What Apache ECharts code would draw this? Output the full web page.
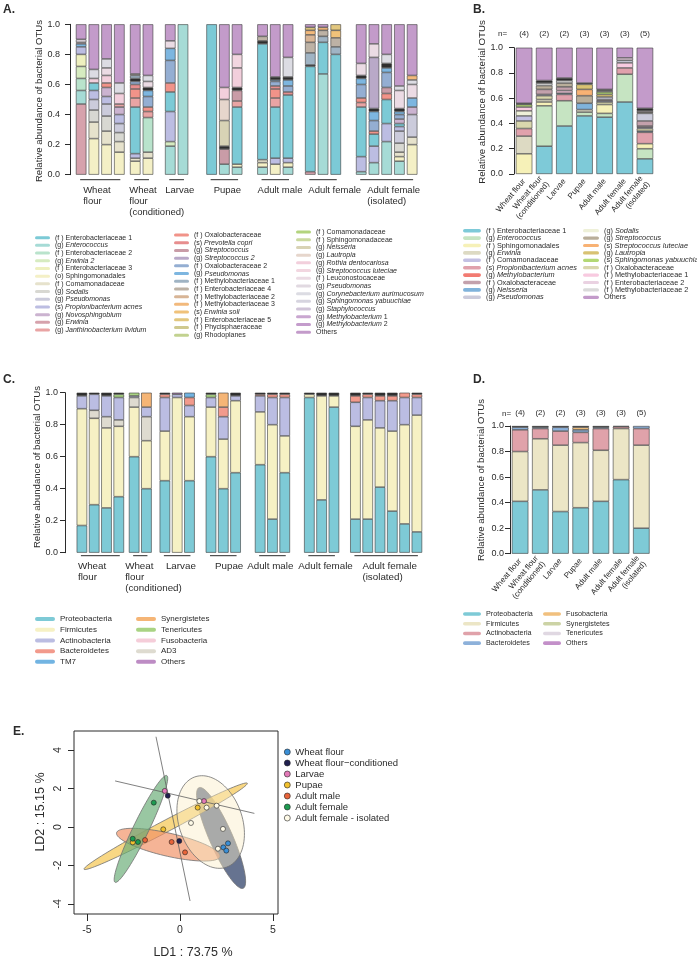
<!DOCTYPE html>
<html>
<head>
<meta charset="utf-8">
<title>Bacterial OTU composition</title>
<script src="https://cdn.jsdelivr.net/npm/echarts@6/dist/echarts.min.js"></script>
<style>
  html, body { margin: 0; padding: 0; background: #fff; }
  #chart { width: 697px; height: 960px; }
</style>
</head>
<body>
<div id="chart"></div>
<script>
const FONT = '"Liberation Sans", Arial, Helvetica, sans-serif';
const INK = '#2b2b2b';

// ---------- shared categories ----------
const stageNames = ['Wheat flour', 'Wheat flour\n(conditioned)', 'Larvae', 'Pupae', 'Adult male', 'Adult female', 'Adult female\n(isolated)'];
const stageGroupNames = ['Wheat\nflour', 'Wheat\nflour\n(conditioned)', 'Larvae', 'Pupae', 'Adult male', 'Adult female', 'Adult female\n(isolated)'];
const stageN = [4, 2, 2, 3, 3, 3, 5];

// ---------- panel A: OTUs per sample (22 samples) ----------
const aGroupSizes = [4, 2, 2, 3, 3, 3, 5];
//                   WF1  WF2  WF3  WF4   WC1  WC2   L1   L2    P1   P2   P3    M1   M2   M3    F1   F2   F3    I1   I2   I3   I4   I5
const aErwinia     = [0.47,0,   0,   0,    0,   0,    0,   0,    0,   0,   0,    0,   0,   0,    0.02,0,   0,    0,   0,   0,   0,   0];
const aEnterococcus= [0.09,0,   0,   0,    0,   0,    0.19,1.00, 0,   0.07,0.05, 0.05,0,   0.05, 0,   0.67,0,    0.02,0.08,0.22,0.09,0];
const aSphingales  = [0,   0.24,0.20,0.15, 0.09,0.11, 0,   0,    0,   0,   0.02, 0.03,0.07,0.03, 0,   0,   0,    0,   0,   0,   0.03,0.20];
const aComamonad   = [0,   0.11,0.09,0.07, 0.02,0.04, 0,   0,    0,   0,   0,    0.02,0,   0,    0,   0,   0,    0,   0,   0,   0.03,0.05];
const aEntero2     = [0.08,0,   0,   0,    0,   0.23, 0,   0,    0,   0,   0,    0,   0,   0,    0,   0,   0,    0,   0,   0,   0,   0];
const aErwinia2    = [0.08,0,   0,   0,    0,   0,    0.03,0,    0,   0,   0,    0,   0,   0,    0,   0,   0,    0,   0,   0,   0,   0];
const aEntero3     = [0.08,0,   0,   0,    0,   0,    0,   0,    0,   0,   0,    0,   0,   0,    0,   0,   0,    0,   0,   0,   0,   0];
const aSodalis     = [0,   0.08,0.10,0.06, 0,   0,    0,   0,    0,   0,   0,    0,   0,   0,    0,   0,   0,    0,   0,   0,   0.06,0];
const aPseudomonas = [0,   0.07,0.08,0.06, 0,   0,    0,   0,    0,   0,   0,    0,   0,   0,    0,   0,   0,    0,   0,   0,   0.08,0.15];
const aPropioni    = [0.05,0.06,0.05,0.06, 0.03,0,    0.20,0,    0,   0,   0,    0,   0.04,0.03, 0,   0,   0,    0.10,0.11,0.12,0.03,0];
const aEntero1     = [0,   0.05,0,   0,    0.31,0,    0.13,0,    1.00,0,   0.38, 0.77,0.34,0.42, 0.70,0.21,0.80, 0.33,0.08,0.16,0.02,0];
const aNovosph     = [0,   0,   0.06,0.05, 0,   0,    0,   0,    0,   0,   0,    0,   0,   0,    0,   0,   0,    0,   0,   0,   0.03,0.05];
const aJanthino    = [0,   0,   0,   0.02, 0.06,0.04, 0,   0,    0,   0,   0.04, 0,   0.06,0,    0,   0,   0,    0.03,0,   0,   0,   0];
const aOxalo       = [0,   0,   0.03,0,    0.06,0.03, 0.06,0,    0,   0,   0,    0,   0.06,0,    0,   0,   0,    0.03,0.02,0.04,0,   0];
const aPrevotella  = [0,   0,   0,   0,    0.03,0,    0,   0,    0,   0,   0,    0,   0.02,0.02, 0,   0,   0,    0,   0,   0,   0,   0];
const aStrep       = [0,   0,   0,   0,    0,   0,    0,   0,    0,   0.10,0.07, 0,   0,   0,    0,   0,   0,    0,   0,   0.04,0,   0];
const aOxalo2      = [0,   0,   0,   0,    0.02,0.07, 0.15,0,    0,   0,   0,    0,   0.03,0.04, 0,   0,   0,    0.09,0.07,0.10,0.03,0];
const aPseudo2     = [0.02,0,   0,   0,    0,   0.04, 0.08,0,    0,   0,   0,    0,   0.01,0.04, 0,   0,   0,    0.04,0.06,0.03,0.02,0.06];
const aMinor       = [0,   0,   0,   0,    0.02,0.02, 0,   0,    0,   0.02,0.02, 0.02,0.02,0.02, 0.01,0,   0,    0.02,0.02,0.03,0.02,0];
const aStrep2      = [0,   0,   0,   0,    0,   0,    0,   0,    0,   0,   0,    0,   0,   0,    0,   0,   0,    0,   0.34,0,   0,   0];
const aNeisseria   = [0,   0,   0,   0,    0,   0,    0,   0,    0,   0.17,0,    0,   0,   0,    0,   0,   0,    0,   0,   0,   0,   0];
const aLautropia   = [0,   0,   0,   0,    0,   0,    0,   0,    0,   0.14,0,    0,   0,   0,    0,   0,   0,    0,   0,   0,   0,   0];
const aRothia      = [0.01,0.03,0.05,0.07, 0,   0,    0,   0,    0,   0.08,0.13, 0,   0,   0,    0,   0,   0,    0,   0,   0,   0,   0];
const aLuteciae    = [0,   0,   0,   0,    0,   0,    0,   0,    0,   0,   0.09, 0,   0,   0,    0,   0,   0,    0,   0,   0,   0,   0];
const aLeucono     = [0,   0,   0.05,0,    0,   0.04, 0.05,0,    0,   0,   0,    0,   0,   0,    0,   0,   0,    0.08,0.09,0,   0.12,0.09];
const aPseudo3     = [0.02,0,   0,   0,    0,   0,    0,   0,    0,   0,   0,    0,   0,   0,    0,   0,   0,    0,   0,   0,   0,   0];
const aCoryne      = [0,   0.06,0.06,0.07, 0,   0.04, 0,   0,    0,   0,   0,    0,   0,   0.13, 0,   0,   0,    0,   0,   0.06,0.03,0.03];
const aMethyl1     = [0,   0,   0,   0,    0.02,0,    0,   0,    0,   0,   0,    0,   0,   0,    0.08,0.04,0.05, 0,   0,   0,   0,   0];
const aEntero4     = [0,   0,   0,   0,    0.01,0,    0,   0,    0,   0,   0,    0.03,0,   0,    0.07,0.04,0.06, 0,   0,   0,   0,   0];
const aMethyl2     = [0,   0,   0,   0,    0,   0,    0,   0,    0,   0,   0,    0,   0,   0,    0.05,0,   0,    0,   0,   0,   0,   0];
const aMethyl3     = [0,   0,   0,   0,    0,   0,    0,   0,    0,   0,   0,    0,   0,   0,    0.03,0.02,0,    0,   0,   0,   0,   0.03];
const aErwiniaSoli = [0,   0,   0,   0,    0,   0,    0,   0,    0,   0,   0,    0,   0,   0,    0,   0,   0.05, 0,   0,   0,   0,   0];
const aEntero5     = [0,   0,   0,   0,    0,   0,    0,   0,    0,   0,   0,    0,   0,   0,    0.02,0,   0.04, 0,   0,   0,   0,   0];
const aOthers      = [0.10,0.30,0.23,0.39, 0.33,0.34, 0.11,0,    0,   0.42,0.20, 0.08,0.35,0.22, 0.02,0.02,0,    0.26,0.13,0.20,0.41,0.34];

// stacking order, bottom to top (null = listed in the legend only)
const aStack = [
  ['erwinia', aErwinia], ['enterococcus', aEnterococcus], ['sphingales', aSphingales], ['comamonad', aComamonad],
  ['entero2', aEntero2], ['erwinia2', aErwinia2], ['entero3', aEntero3], ['sodalis', aSodalis],
  ['pseudomonas', aPseudomonas], ['propioni', aPropioni], ['entero1', aEntero1], ['novosph', aNovosph],
  ['janthino', aJanthino], ['oxalo', aOxalo], ['prevotella', aPrevotella], ['strep', aStrep],
  ['oxalo2', aOxalo2], ['pseudo2', aPseudo2], ['minor', aMinor], ['strep2', aStrep2],
  ['neisseria', aNeisseria], ['lautropia', aLautropia], ['rothia', aRothia], ['luteciae', aLuteciae],
  ['leucono', aLeucono], ['pseudo3', aPseudo3], ['coryne', aCoryne], ['methyl1', aMethyl1],
  ['entero4', aEntero4], ['methyl2', aMethyl2], ['methyl3', aMethyl3], ['erwiniaSoli', aErwiniaSoli],
  ['entero5', aEntero5], ['phycis', null], ['rhodoplanes', null], ['comamonad2', null],
  ['sphingaceae', null], ['yabu', null], ['staphylo', null], ['methylob1', null], ['methylob2', null],
  ['others', aOthers]
];
const aLabels = {
  entero1: '(f ) Enterobacteriaceae 1', enterococcus: '(g) *Enterococcus*', entero2: '(f ) Enterobacteriaceae 2',
  erwinia2: '(g) *Erwinia 2*', entero3: '(f ) Enterobacteriaceae 3', sphingales: '(o) Sphingomonadales',
  comamonad: '(f ) Comamonadaceae', sodalis: '(g) *Sodalis*', pseudomonas: '(g) *Pseudomonas*',
  propioni: '(s) *Propionibacterium acnes*', novosph: '(g) *Novosphingobium*', erwinia: '(g) *Erwinia*',
  janthino: '(g) *Janthinobacterium lividum*',
  oxalo: '(f ) Oxalobacteraceae', prevotella: '(s) *Prevotella copri*', strep: '(g) *Streptococcus*',
  strep2: '(g) *Streptococcus 2*', oxalo2: '(f ) Oxalobacteraceae 2', pseudo2: '(g) *Pseudomonas*',
  methyl1: '(f ) Methylobacteriaceae 1', entero4: '(f ) Enterobacteriaceae 4', methyl2: '(f ) Methylobacteriaceae 2',
  methyl3: '(f ) Methylobacteriaceae 3', erwiniaSoli: '(s) *Erwinia soli*', entero5: '(f ) Enterobacteriaceae 5',
  phycis: '(f ) Phycisphaeraceae', rhodoplanes: '(g) Rhodoplanes',
  comamonad2: '(f ) Comamonadaceae', sphingaceae: '(f ) Sphingomonadaceae', neisseria: '(g) *Neisseria*',
  lautropia: '(g) *Lautropia*', rothia: '(g) *Rothia dentocariosa*', luteciae: '(g) *Streptococcus luteciae*',
  leucono: '(f ) Leuconostocaceae', pseudo3: '(g) *Pseudomonas*', coryne: '(g) *Corynebacterium aurimucosum*',
  yabu: '(g) *Sphingomonas yabuuchiae*', staphylo: '(g) *Staphylococcus*', methylob1: '(g) *Methylobacterium* 1',
  methylob2: '(g) *Methylobacterium* 2', others: 'Others'
};
const aLegendCols = [
  ['entero1', 'enterococcus', 'entero2', 'erwinia2', 'entero3', 'sphingales', 'comamonad', 'sodalis', 'pseudomonas', 'propioni', 'novosph', 'erwinia', 'janthino'],
  ['oxalo', 'prevotella', 'strep', 'strep2', 'oxalo2', 'pseudo2', 'methyl1', 'entero4', 'methyl2', 'methyl3', 'erwiniaSoli', 'entero5', 'phycis', 'rhodoplanes'],
  ['comamonad2', 'sphingaceae', 'neisseria', 'lautropia', 'rothia', 'luteciae', 'leucono', 'pseudo3', 'coryne', 'yabu', 'staphylo', 'methylob1', 'methylob2', 'others']
];
const aColors = {
  entero1: '#7ccad6', enterococcus: '#a6dbd6', entero2: '#b9e3cc', erwinia2: '#d6ebc0', entero3: '#eef0bf',
  sphingales: '#f4f0c6', comamonad: '#e6e2cc', sodalis: '#d8d8d2', pseudomonas: '#cbcbdb', propioni: '#bcbde2',
  novosph: '#cbb3d0', erwinia: '#d6a2ac', janthino: '#e9a4a4', oxalo: '#f19389', prevotella: '#e78e8e',
  strep: '#c99ca7', strep2: '#b9a9c8', oxalo2: '#94aed2', pseudo2: '#7db6e0', methyl1: '#a0b4c4',
  entero4: '#bdb2a5', methyl2: '#d8b596', methyl3: '#f2b97c', erwiniaSoli: '#f0c27a', entero5: '#e2c77f',
  phycis: '#cfc98f', rhodoplanes: '#c2d290', comamonad2: '#b3d47e', sphingaceae: '#cbd9a0', neisseria: '#d8d3b5',
  lautropia: '#e6d6cc', rothia: '#f2cfdc', luteciae: '#f2d6e0', leucono: '#ebdbe4', pseudo3: '#e1d9e1',
  coryne: '#dcdce3', yabu: '#d6d4df', staphylo: '#d0c4d8', methylob1: '#c9a6d0', methylob2: '#c49ccc',
  others: '#c39bca', minor: '#2e2e2e'
};

// ---------- panel B: pooled per stage ----------
const bEntero1      = [0,    0.22, 0.38, 0.46, 0.45, 0.57, 0.12];
const bEnterococcus = [0,    0.32, 0.20, 0.03, 0.03, 0.22, 0.08];
const bSphingales   = [0.16, 0.03, 0,    0,    0.07, 0,    0.04];
const bErwinia      = [0.14, 0.02, 0,    0.02, 0,    0,    0];
const bPropioni     = [0.06, 0,    0.05, 0,    0,    0.05, 0.09];
const bNeisseria    = [0,    0,    0.01, 0.05, 0,    0,    0.01];
const bOxalo2       = [0.06, 0.03, 0,    0,    0.02, 0,    0.02];
const bComamonad    = [0.04, 0.01, 0,    0,    0.01, 0,    0.01];
const bSodalis      = [0.04, 0,    0,    0,    0,    0,    0];
const bMethyl1      = [0.03, 0,    0.02, 0,    0,    0.04, 0.01];
const bOxalo        = [0,    0.04, 0.03, 0,    0.01, 0,    0.04];
const bPseudomonas  = [0,    0,    0,    0,    0.02, 0.02, 0.06];
const bStrep        = [0,    0.03, 0.03, 0.06, 0,    0,    0.01];
const bLuteciae     = [0,    0,    0,    0.05, 0,    0,    0];
const bLautropia    = [0,    0,    0,    0.04, 0.02, 0,    0];
const bYabu         = [0.02, 0,    0,    0,    0.02, 0,    0];
const bEntero2      = [0,    0,    0,    0,    0,    0.02, 0.01];
const bMethyl2      = [0,    0.02, 0.02, 0,    0.01, 0,    0];
const bMinor        = [0.01, 0.02, 0.02, 0.01, 0.01, 0,    0.02];
const bOthers       = [0.44, 0.26, 0.24, 0.28, 0.33, 0.08, 0.48];
const bStack = [
  ['entero1', bEntero1], ['enterococcus', bEnterococcus], ['sphingales', bSphingales], ['erwinia', bErwinia],
  ['propioni', bPropioni], ['neisseria', bNeisseria], ['oxalo2', bOxalo2], ['comamonad', bComamonad],
  ['sodalis', bSodalis], ['methyl1', bMethyl1], ['oxalo', bOxalo], ['pseudomonas', bPseudomonas],
  ['strep', bStrep], ['luteciae', bLuteciae], ['lautropia', bLautropia], ['yabu', bYabu],
  ['methylobact', null], ['entero2', bEntero2], ['methyl2', bMethyl2], ['minor', bMinor], ['others', bOthers]
];
const bLabels = {
  entero1: '(f ) Enterobacteriaceae 1', enterococcus: '(g) *Enterococcus*', sphingales: '(f ) Sphingomonadales',
  erwinia: '(g) *Erwinia*', comamonad: '(f ) Comamonadaceae', propioni: '(s) *Propionibacterium acnes*',
  methylobact: '(g) *Methylobacterium*', oxalo: '(f ) Oxalobacteraceae', neisseria: '(g) *Neisseria*',
  pseudomonas: '(g) *Pseudomonas*', sodalis: '(g) *Sodalis*', strep: '(g) *Streptococcus*',
  luteciae: '(s) *Streptococcus luteciae*', lautropia: '(g) *Lautropia*', yabu: '(s) *Sphingomonas yabuuchiae*',
  oxalo2: '(f ) Oxalobacteraceae', methyl1: '(f ) Methylobacteriaceae 1', entero2: '(f ) Enterobacteriaceae 2',
  methyl2: '(f ) Methylobacteriaceae 2', others: 'Others'
};
const bLegendCols = [
  ['entero1', 'enterococcus', 'sphingales', 'erwinia', 'comamonad', 'propioni', 'methylobact', 'oxalo', 'neisseria', 'pseudomonas'],
  ['sodalis', 'strep', 'luteciae', 'lautropia', 'yabu', 'oxalo2', 'methyl1', 'entero2', 'methyl2', 'others']
];
const bColors = {
  entero1: '#7ecad8', enterococcus: '#c6e4c2', sphingales: '#f6f1b8', erwinia: '#dddac3', comamonad: '#c3c0e3',
  propioni: '#e0a1ac', methylobact: '#f27b72', oxalo: '#c3a1ac', neisseria: '#80b3db', pseudomonas: '#cbcbdb',
  sodalis: '#eef0d8', strep: '#b9ae9a', luteciae: '#f8b274', lautropia: '#d8c273', yabu: '#b3d874',
  oxalo2: '#d9d7ad', methyl1: '#f8cae0', entero2: '#ead2e2', methyl2: '#dadada', others: '#c39bca', minor: '#2e2e2e'
};

// ---------- panel C: phyla per sample (24 samples) ----------
const cGroupSizes = [4, 2, 3, 3, 3, 3, 6];
//                WF1  WF2  WF3  WF4   WC1  WC2   L1   L2   L3    P1   P2   P3    M1   M2   M3    F1   F2   F3    I1   I2   I3   I4   I5   I6
const cProteo  = [0.17,0.30,0.28,0.35, 0.60,0.40, 0.45,0,   0.45, 0.60,0.40,0.50, 0.55,0.21,0.50, 0.97,0.33,0.91, 0.21,0.21,0.41,0.26,0.18,0.13];
const cFirm    = [0.73,0.54,0.50,0.44, 0.31,0.30, 0.31,0.97,0.40, 0.31,0.31,0.45, 0.33,0.59,0.23, 0.02,0.65,0.07, 0.58,0.62,0.37,0.50,0.62,0.73];
const cAd3     = [0,   0.05,0.07,0.04, 0.06,0.15, 0,   0,   0,    0,   0,   0,    0,   0,   0,    0,   0,   0,    0,   0,   0,   0,   0,   0];
const cActino  = [0.08,0.10,0.13,0.14, 0.01,0.06, 0.21,0.02,0.07, 0.06,0.14,0.03, 0.10,0.17,0.24, 0,   0,   0,    0.15,0.14,0.17,0.19,0.17,0.11];
const cBactero = [0,   0,   0,   0,    0,   0,    0.02,0,   0.05, 0,   0.06,0,    0.01,0.02,0.02, 0,   0,   0,    0.04,0.02,0.03,0.03,0.03,0.02];
const cTm7     = [0,   0,   0,   0,    0,   0,    0,   0,   0.03, 0,   0,   0,    0,   0,   0,    0,   0,   0,    0,   0,   0,   0,   0,   0];
const cSynerg  = [0,   0,   0,   0,    0,   0.09, 0,   0,   0,    0,   0.09,0,    0,   0,   0,    0,   0,   0,    0,   0,   0,   0,   0,   0];
const cTeneri  = [0,   0,   0,   0.02, 0.02,0,    0,   0,   0,    0.02,0,   0,    0,   0,   0,    0,   0,   0,    0,   0,   0,   0,   0,   0];
const cOthers  = [0,   0,   0,   0,    0,   0,    0,   0.01,0,    0,   0,   0,    0,   0,   0,    0,   0,   0,    0,   0,   0,   0,   0,   0];
const cMinor   = [0.02,0.01,0.02,0.01, 0,   0,    0.01,0,   0,    0.01,0,   0.02, 0.01,0.01,0.01, 0.01,0.02,0.02, 0.02,0.01,0.02,0.02,0,   0.01];
const cStack = [
  ['proteo', cProteo], ['firm', cFirm], ['ad3', cAd3], ['actino', cActino], ['bactero', cBactero],
  ['tm7', cTm7], ['synerg', cSynerg], ['teneri', cTeneri], ['fuso', null], ['others', cOthers], ['minor', cMinor]
];
const cLabels = {
  proteo: 'Proteobacteria', firm: 'Firmicutes', actino: 'Actinobacteria', bactero: 'Bacteroidetes', tm7: 'TM7',
  synerg: 'Synergistetes', teneri: 'Tenericutes', fuso: 'Fusobacteria', ad3: 'AD3', others: 'Others'
};
const cLegendCols = [['proteo', 'firm', 'actino', 'bactero', 'tm7'], ['synerg', 'teneri', 'fuso', 'ad3', 'others']];
const cColors = {
  proteo: '#7ecad6', firm: '#f6f1c4', actino: '#bbbde2', bactero: '#f29a8c', tm7: '#72b4e2', synerg: '#f5b576',
  teneri: '#a9d383', fuso: '#f5cdd9', ad3: '#dedbd0', others: '#bd8cc4', minor: '#2e2e2e'
};

// ---------- panel D: pooled phyla per stage ----------
const dProteo  = [0.41, 0.50, 0.33, 0.36, 0.41, 0.58,  0.20];
const dFirm    = [0.39, 0.40, 0.52, 0.51, 0.40, 0.40,  0.65];
const dActino  = [0.17, 0.08, 0.11, 0.08, 0.17, 0.015, 0.13];
const dBactero = [0.02, 0.01, 0.03, 0.02, 0.01, 0,     0.02];
const dFuso    = [0,    0,    0,    0.02, 0,    0,     0];
const dMinor   = [0.01, 0.01, 0.01, 0.01, 0.01, 0.005, 0];
const dStack = [
  ['proteo', dProteo], ['firm', dFirm], ['actino', dActino], ['bactero', dBactero], ['fuso', dFuso],
  ['synerg', null], ['teneri', null], ['others', null], ['minor', dMinor]
];
const dLabels = {
  proteo: 'Proteobacteria', firm: 'Firmicutes', actino: 'Actinobacteria', bactero: 'Bacteroidetes',
  fuso: 'Fusobacteria', synerg: 'Synergistetes', teneri: 'Tenericutes', others: 'Others'
};
const dLegendCols = [['proteo', 'firm', 'actino', 'bactero'], ['fuso', 'synerg', 'teneri', 'others']];
const dColors = {
  proteo: '#7ecad6', firm: '#ece6c6', actino: '#e0a2aa', bactero: '#8db1da', fuso: '#f1c07e',
  synerg: '#ccd3a5', teneri: '#e0d8e2', others: '#c390c9', minor: '#2e2e2e'
};

// ---------- panel E: LDA ----------
const eXTicks = [-5, 0, 5];
const eYTicks = [-4, -2, 0, 2, 4];
const eWheatFlour     = [[2.33, -1.06], [2.58, -0.85], [2.49, -1.23]];
const eWheatFlourCond = [[-0.66, 1.63], [-0.04, -0.73]];
const eLarvae         = [[-0.82, 1.88], [1.29, 1.35]];
const ePupae          = [[-0.90, -0.12], [0.95, 1.01], [-2.54, -0.80]];
const eAdultMale      = [[-1.88, -0.68], [-0.45, -0.78], [0.27, -1.32]];
const eAdultFemale    = [[-1.41, 1.27], [-2.54, -0.61], [-2.26, -0.78]];
const eIsolated       = [[0.59, 0.21], [1.04, 1.35], [1.43, 1.01], [1.97, 1.11], [2.31, -0.10], [2.04, -1.13]];
// ellipses: centre x, centre y, half major axis (dx, dy), half minor width
const eEllipseFlour    = [2.21, -0.57, -1.19, 2.62, 0.62];
const eEllipsePupae    = [-0.77, 0.04, 4.39, 2.24, 0.31];
const eEllipseMale     = [-0.63, -0.92, 2.78, -0.62, 0.62];
const eEllipseFemale   = [-2.10, -0.10, 1.39, 2.78, 0.42];
const eEllipseIsolated = [1.65, 0.26, 0.85, -2.35, 1.70];
const eLoading1 = [[-1.29, 4.70], [0.54, -3.85]];
const eLoading2 = [[-3.49, 2.40], [4.00, 0.71]];
const eGroups = [
  ['wf', 'Wheat flour', eWheatFlour], ['wfc', 'Wheat flour\u2212conditioned', eWheatFlourCond],
  ['larvae', 'Larvae', eLarvae], ['pupae', 'Pupae', ePupae], ['male', 'Adult male', eAdultMale],
  ['female', 'Adult female', eAdultFemale], ['iso', 'Adult female - isolated', eIsolated]
];
const ePointColors = { wf: '#3a8fd6', wfc: '#1f1f4f', larvae: '#e37ab8', pupae: '#f2c12e', male: '#e8643a', female: '#1d9a50', iso: '#fffbe8' };
const eEllipseList = [eEllipseFlour, eEllipsePupae, eEllipseMale, eEllipseFemale, eEllipseIsolated];
const eEllipseFills = ['rgba(75,90,125,0.85)', 'rgba(245,200,85,0.72)', 'rgba(240,145,100,0.68)', 'rgba(105,172,118,0.68)', 'rgba(250,238,200,0.45)'];

// ---------- helpers ----------
const labelOf = {};
function richLabel(name) {
  return (labelOf[name] || name).replace(/\*([^*]+)\*/g, '{i|$1}');
}
function registerLabels(panel, labels) {
  Object.keys(labels).forEach(k => { labelOf[panel + ':' + k] = labels[k]; });
}

// bar centres in "bar units": groups separated by an extra gap,
// then snapped to a fine category grid (q slots per bar)
function slotLayout(sizes, gaps, L, q) {
  const xs = [];
  let x = 0;
  sizes.forEach((n, g) => {
    if (g > 0) x += 1 + gaps[g - 1];
    for (let i = 0; i < n; i++) { xs.push(x); if (i < n - 1) x += 1; }
  });
  const raw = xs.map(v => Math.round(v * q));
  const w = (L.lastPx - L.firstPx) / (raw[raw.length - 1] - raw[0]);
  const pad = Math.round((L.firstPx - L.axisPx) / w - 0.5);
  const slots = raw.map(r => r - raw[0] + pad);
  const total = slots[slots.length - 1] + 1 + Math.round((L.rightPx - L.lastPx) / w - 0.5);
  return { slots, total, width: total * w };
}

function barStack(panel, list, colors, lay, xi, yi, barWidth) {
  return list.map(([key, vals]) => {
    let data = [];
    if (vals) {
      if (lay) {
        data = new Array(lay.total).fill('-');
        lay.slots.forEach((s, i) => { data[s] = vals[i] > 0 ? vals[i] : '-'; });
      } else {
        data = vals.map(v => (v > 0 ? v : '-'));
      }
    }
    return {
      name: panel + ':' + key, type: 'bar', stack: panel,
      xAxisIndex: xi, yAxisIndex: yi, barWidth, silent: true,
      itemStyle: { color: colors[key], borderColor: '#3a3a3a', borderWidth: 0.6 },
      data
    };
  });
}

function groupBrackets(lay, sizes, names, dx, xi, yi, lineGap, textGap, fontSize) {
  const spans = [];
  let k = 0;
  sizes.forEach((n, g) => { spans.push([lay.slots[k], lay.slots[k + n - 1], g]); k += n; });
  return {
    type: 'custom', xAxisIndex: xi, yAxisIndex: yi, silent: true, clip: false, z: 5,
    data: spans,
    renderItem(params, api) {
      const g = api.value(2);
      const a = api.coord([api.value(0), 0]);
      const b = api.coord([api.value(1), 0]);
      const y = a[1] + lineGap;
      return {
        type: 'group', children: [
          { type: 'line', shape: { x1: a[0] - 1, y1: y, x2: b[0] + 1, y2: y }, style: { stroke: INK, lineWidth: 1 } },
          { type: 'text', x: a[0] + dx[g], y: y + textGap,
            style: { text: names[g], align: 'left', textAlign: 'left',
              verticalAlign: 'top', textVerticalAlign: 'top', fontSize, lineHeight: 11, fontFamily: FONT, fill: INK } }
        ]
      };
    }
  };
}

function slotAxis(gridIndex, lay) {
  return { gridIndex, type: 'category', data: new Array(lay.total).fill(''), show: false };
}
function abundanceAxis(gridIndex, margin) {
  return {
    gridIndex, type: 'value', min: 0, max: 1, interval: 0.2,
    axisLine: { show: true, lineStyle: { color: INK, width: 1 } },
    axisTick: { show: true, length: 5, lineStyle: { color: INK } },
    splitLine: { show: false },
    axisLabel: { fontSize: 9, margin, color: INK, fontFamily: FONT, formatter: v => v.toFixed(1) }
  };
}
function stageAxis(gridIndex) {
  return {
    gridIndex, type: 'category', data: stageNames,
    axisLine: { show: false }, axisTick: { show: false },
    axisLabel: { interval: 0, rotate: 50, margin: 6, fontSize: 8, lineHeight: 9, color: INK, fontFamily: FONT }
  };
}
function countAxis(gridIndex, margin) {
  return {
    gridIndex, type: 'category', position: 'top', data: stageNames,
    axisLine: { show: false }, axisTick: { show: false },
    axisLabel: { interval: 0, margin, fontSize: 8, color: INK, fontFamily: FONT, formatter: (v, i) => '(' + stageN[i] + ')' }
  };
}

const capsule = 'path://M2,0 L18,0 A2,2 0 0 1 18,4 L2,4 A2,2 0 0 1 2,0 Z';
function legendCol(panel, keys, left, top, o) {
  return {
    orient: 'vertical', left, top, padding: 0, itemGap: 0,
    itemWidth: o.w, itemHeight: o.h, icon: o.icon || capsule, selectedMode: false,
    data: keys.map(k => panel + ':' + k),
    formatter: richLabel,
    itemStyle: o.itemStyle || { borderWidth: 0 },
    textStyle: {
      fontFamily: FONT, fontSize: o.fs, lineHeight: o.lh, color: INK,
      rich: { i: { fontStyle: 'italic', fontFamily: FONT, fontSize: o.fs, lineHeight: o.lh, color: INK } }
    }
  };
}

function txt(x, y, text, fs, opt) {
  opt = opt || {};
  const align = opt.align || 'center';
  return {
    type: 'text', x, y, rotation: opt.rot || 0, silent: true,
    style: { text, fontSize: fs, fontWeight: opt.bold ? 'bold' : 'normal', fontFamily: FONT, fill: INK,
      align, textAlign: align, verticalAlign: 'middle', textVerticalAlign: 'middle' }
  };
}

// ---------- layout ----------
const aL = { axisPx: 70, firstPx: 81, lastPx: 412, rightPx: 424 };
const aLay = slotLayout(aGroupSizes, [0.28, 0.84, 1.08, 1.12, 0.8, 0.8], aL, 4);
const cL = { axisPx: 65, firstPx: 81, lastPx: 416, rightPx: 424 };
const cLay = slotLayout(cGroupSizes, [0.36, 0.4, 0.8, 1.0, 0.92, 0.68], cL, 4);
// label offsets from the first bar of each group, px
const aLabelDx = [2, -6, -5, 2, -5, -2, 6];
const cLabelDx = [-4, -9, 1, 4, -13, -11, 7];

registerLabels('A', aLabels);
registerLabels('B', bLabels);
registerLabels('C', cLabels);
registerLabels('D', dLabels);
eGroups.forEach(([k, label]) => { labelOf['E:' + k] = label; });

const series = [].concat(
  barStack('A', aStack, aColors, aLay, 0, 0, 10.5),
  [groupBrackets(aLay, aGroupSizes, stageGroupNames, aLabelDx, 0, 0, 5, 5, 9.5)],
  barStack('B', bStack, bColors, null, 1, 1, 16.5),
  barStack('C', cStack, cColors, cLay, 3, 2, 10.5),
  [groupBrackets(cLay, cGroupSizes, stageGroupNames, cLabelDx, 3, 2, 3, 5.5, 9.8)],
  barStack('D', dStack, dColors, null, 4, 3, 16.5),
  [{
    type: 'custom', xAxisIndex: 6, yAxisIndex: 4, silent: true, z: 1,
    data: eEllipseList,
    renderItem(params, api) {
      const c = api.coord([api.value(0), api.value(1)]);
      const e = api.coord([api.value(0) + api.value(2), api.value(1) + api.value(3)]);
      const U = [e[0] - c[0], e[1] - c[1]];
      const len = Math.hypot(U[0], U[1]);
      const w = api.size([api.value(4), 0])[0];
      const V = [-U[1] / len * w, U[0] / len * w];
      const pts = [];
      for (let k = 0; k < 90; k++) {
        const t = k / 90 * Math.PI * 2;
        pts.push([c[0] + Math.cos(t) * U[0] + Math.sin(t) * V[0], c[1] + Math.cos(t) * U[1] + Math.sin(t) * V[1]]);
      }
      return { type: 'polygon', shape: { points: pts }, style: { fill: eEllipseFills[params.dataIndex], stroke: '#707070', lineWidth: 0.8 } };
    }
  }],
  [eLoading1, eLoading2].map((d, i) => ({
    name: 'loading' + i, type: 'line', xAxisIndex: 6, yAxisIndex: 4, data: d, symbol: 'none', silent: true, z: 2,
    lineStyle: { color: '#606060', width: 0.8 }
  })),
  eGroups.map(([k, , pts]) => ({
    name: 'E:' + k, type: 'scatter', xAxisIndex: 6, yAxisIndex: 4, data: pts, symbolSize: 5, silent: true, z: 3,
    itemStyle: { color: ePointColors[k], borderColor: '#222', borderWidth: 0.6, opacity: 1 }
  }))
);

const yTitle = 'Relative abundance of bacterial OTUs';

const option = {
  animation: false,
  backgroundColor: '#fff',
  textStyle: { fontFamily: FONT },
  grid: [
    { left: aL.axisPx, top: 24.3, width: aLay.width, height: 150.4 },
    { left: 514, top: 47.7, width: 141, height: 126.3 },
    { left: cL.axisPx, top: 392.7, width: cLay.width, height: 160 },
    { left: 510, top: 426, width: 141.4, height: 127.7 },
    { left: 74, top: 731, width: 204, height: 183, show: true, borderColor: INK, borderWidth: 1, backgroundColor: 'transparent' }
  ],
  xAxis: [
    slotAxis(0, aLay),
    stageAxis(1),
    countAxis(1, 10),
    slotAxis(2, cLay),
    stageAxis(3),
    countAxis(3, 9),
    {
      gridIndex: 4, type: 'value', min: -5.7, max: 5.27,
      axisLine: { show: false, onZero: false },
      axisTick: { show: true, length: 7, customValues: eXTicks, lineStyle: { color: INK } },
      axisLabel: { customValues: eXTicks, fontSize: 10.5, margin: 11, color: INK, fontFamily: FONT },
      splitLine: { show: false }
    }
  ],
  yAxis: [
    abundanceAxis(0, 10),
    abundanceAxis(1, 11),
    abundanceAxis(2, 7),
    abundanceAxis(3, 6),
    {
      gridIndex: 4, type: 'value', min: -4.53, max: 5.0,
      axisLine: { show: false, onZero: false },
      axisTick: { show: true, length: 6, customValues: eYTicks, lineStyle: { color: INK } },
      axisLabel: { customValues: eYTicks, rotate: 90, fontSize: 10.5, margin: 10, color: INK, fontFamily: FONT },
      splitLine: { show: false }
    }
  ],
  legend: [
    legendCol('A', aLegendCols[0], 35, 233.8, { w: 15, h: 4, fs: 7, lh: 7.7 }),
    legendCol('A', aLegendCols[1], 174, 231.2, { w: 15, h: 4, fs: 7, lh: 7.7 }),
    legendCol('A', aLegendCols[2], 296, 228.2, { w: 15, h: 4, fs: 7, lh: 7.7 }),
    legendCol('B', bLegendCols[0], 463, 227, { w: 18, h: 4, fs: 7.3, lh: 7.4 }),
    legendCol('B', bLegendCols[1], 583, 227, { w: 16, h: 4, fs: 7.3, lh: 7.4 }),
    legendCol('C', cLegendCols[0], 35, 613.7, { w: 20, h: 4.5, fs: 8, lh: 10.7 }),
    legendCol('C', cLegendCols[1], 136, 613.7, { w: 20, h: 4.5, fs: 8, lh: 10.7 }),
    legendCol('D', dLegendCols[0], 463, 609.2, { w: 18, h: 4.5, fs: 7.2, lh: 9.7 }),
    legendCol('D', dLegendCols[1], 543, 609.2, { w: 18, h: 4.5, fs: 7.2, lh: 9.7 }),
    legendCol('E', eGroups.map(g => g[0]), 284, 746.5, { w: 6, h: 6, fs: 9.5, lh: 11, icon: 'circle', itemStyle: { borderColor: '#222', borderWidth: 0.6 } })
  ],
  graphic: [
    txt(3, 10, 'A.', 12, { bold: true, align: 'left' }),
    txt(473, 10, 'B.', 12, { bold: true, align: 'left' }),
    txt(3, 380, 'C.', 12, { bold: true, align: 'left' }),
    txt(473, 380, 'D.', 12, { bold: true, align: 'left' }),
    txt(13, 732, 'E.', 12, { bold: true, align: 'left' }),
    txt(39, 101, yTitle, 9.6, { rot: Math.PI / 2 }),
    txt(482, 102, yTitle, 9.7, { rot: Math.PI / 2 }),
    txt(37, 467, yTitle, 9.6, { rot: Math.PI / 2 }),
    txt(481, 480, yTitle, 9.6, { rot: Math.PI / 2 }),
    txt(498, 33.5, 'n=', 8, { align: 'left' }),
    txt(502, 413.5, 'n=', 8, { align: 'left' }),
    txt(193, 953, 'LD1 : 73.75 %', 12.5),
    txt(41, 812, 'LD2 : 15.15 %', 12.5, { rot: Math.PI / 2 })
  ],
  series
};

const chart = echarts.init(document.getElementById('chart'));
chart.setOption(option);
</script>
</body>
</html>
